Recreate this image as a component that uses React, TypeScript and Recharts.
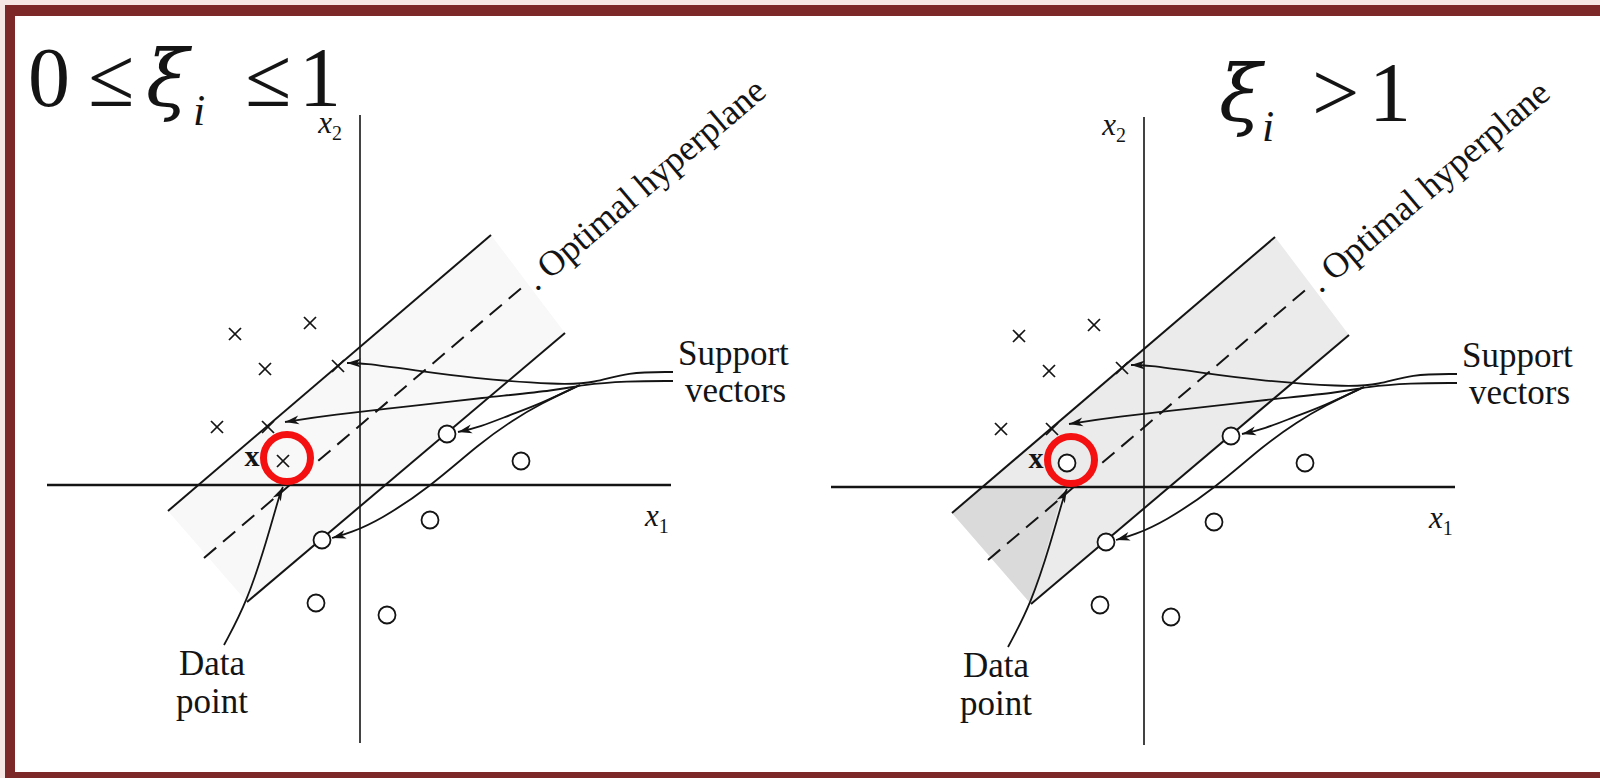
import React from 'react';
import { ComposedChart, XAxis, YAxis, Line, Area, Scatter, ReferenceLine } from 'recharts';

// plane coordinates: origin where x1 and x2 cross, 1 unit = 10px, x2 upward
const crossPoints = [
  { x: -12.5, y: 15.1 },
  { x: -5.0, y: 16.2 },
  { x: -9.5, y: 11.6 },
  { x: -2.2, y: 11.9 },
  { x: -14.3, y: 5.8 },
  { x: -9.2, y: 5.8 },
];

const circlePoints = [
  { x: 8.7, y: 5.1 },
  { x: 16.1, y: 2.4 },
  { x: 7.0, y: -3.5 },
  { x: -3.8, y: -5.5 },
  { x: -4.4, y: -11.8 },
  { x: 2.7, y: -13.0 },
];

const flaggedPoint = [{ x: -7.7, y: 2.4 }];
const flagRing = [{ x: -7.3, y: 2.7 }];
const boldX = [{ x: -10.8, y: 2.7, text: 'x' }];

const upperMargin = [{ x: -19.2, y: -2.6 }, { x: 13.1, y: 25.0 }];
const hyperplane = [{ x: -15.6, y: -7.3 }, { x: 16.5, y: 20.0 }];
const lowerMargin = [{ x: -11.3, y: -11.7 }, { x: 20.5, y: 15.2 }];

const x1Span = [-31.3, 31.1];
const x2Span = [-25.8, 37.0];

// pointer curves, label end first, arrow tip last
const toTopCross = [
  { x: 31.3, y: 11.3 }, { x: 26.7, y: 11.3 }, { x: 23.5, y: 10.2 }, { x: 20.0, y: 10.0 },
  { x: 11.0, y: 10.7 }, { x: 5.3, y: 11.5 }, { x: 0.2, y: 12.2 }, { x: -1.3, y: 12.2 },
];
const toLowCross = [
  { x: 31.3, y: 10.4 }, { x: 26.7, y: 10.4 }, { x: 22.0, y: 10.0 }, { x: 20.0, y: 9.5 },
  { x: 12.0, y: 8.7 }, { x: 5.3, y: 7.9 }, { x: -3.0, y: 7.0 }, { x: -7.5, y: 6.3 },
];
const toHighCircle = [
  { x: 22.0, y: 10.0 }, { x: 18.0, y: 8.1 }, { x: 15.0, y: 7.0 }, { x: 12.0, y: 5.8 }, { x: 9.8, y: 5.3 },
];
const toLowCircle = [
  { x: 22.0, y: 10.0 }, { x: 18.0, y: 8.1 }, { x: 15.3, y: 6.5 }, { x: 12.0, y: 4.2 },
  { x: 7.0, y: -0.2 }, { x: 2.0, y: -3.5 }, { x: -1.0, y: -4.8 }, { x: -2.8, y: -5.3 },
];
const toDataPoint = [
  { x: -13.6, y: -16.0 }, { x: -11.3, y: -11.7 }, { x: -9.3, y: -5.5 }, { x: -8.0, y: -0.8 }, { x: -7.7, y: -0.2 },
];
const pointers = [toTopCross, toLowCross, toHighCircle, toLowCircle, toDataPoint];

const textNotes = [
  { x: 17.6, y: 19.3, text: '. Optimal hyperplane', kind: 'slant' },
  { x: 31.8, y: 12.0, text: 'Support', kind: 'plain' },
  { x: 32.5, y: 8.3, text: 'vectors', kind: 'plain' },
  { x: -14.8, y: -19.0, text: 'Data', kind: 'center' },
  { x: -14.8, y: -22.8, text: 'point', kind: 'center' },
];
const axisNames = [
  { x: -1.8, y: 35.2, text: 'x', sub: '2', kind: 'end' },
  { x: 28.5, y: -4.1, text: 'x', sub: '1', kind: 'start' },
];

// wrong-side region in the right panel (denser stipple)
const wrongSide = [
  { x: -19.2, y: -2.6 }, { x: -16.2, y: 0 }, { x: -8.0, y: 0 }, { x: -11.3, y: -11.7 },
];

function bandRows(poly: { x: number; y: number }[]) {
  const xs = Array.from(new Set(poly.map((p) => p.x))).sort((a, b) => a - b);
  return xs.map((x) => {
    const ys: number[] = [];
    poly.forEach((p, i) => {
      const q = poly[(i + 1) % poly.length];
      if (x < Math.min(p.x, q.x) - 1e-9 || x > Math.max(p.x, q.x) + 1e-9) return;
      if (p.x === q.x) {
        ys.push(p.y, q.y);
        return;
      }
      ys.push(p.y + ((q.y - p.y) * (x - p.x)) / (q.x - p.x));
    });
    return { x, band: [Math.min(...ys), Math.max(...ys)] };
  });
}

function headOf(path: { x: number; y: number }[]) {
  const a = path[path.length - 2];
  const b = path[path.length - 1];
  return { x: b.x, y: b.y, angle: (Math.atan2(-(b.y - a.y), b.x - a.x) * 180) / Math.PI };
}

const INK = '#141414';
const SERIF = '"Liberation Serif", "DejaVu Serif", serif';

const CrossShape = (p: any) => (
  <g stroke={INK} strokeWidth={1.7}>
    <line x1={p.cx - 6} y1={p.cy - 6} x2={p.cx + 6} y2={p.cy + 6} />
    <line x1={p.cx - 6} y1={p.cy + 6} x2={p.cx + 6} y2={p.cy - 6} />
  </g>
);

const CircleShape = (p: any) => (
  <circle cx={p.cx} cy={p.cy} r={8.5} fill="#fff" stroke={INK} strokeWidth={1.8} />
);

const RingShape = (p: any) => (
  <circle cx={p.cx} cy={p.cy} r={23.5} fill="none" stroke="#f41010" strokeWidth={7} />
);

const HeadShape = (p: any) => (
  <polygon
    points="0,0 -14,-4.5 -10,0 -14,4.5"
    fill={INK}
    transform={`translate(${p.cx},${p.cy}) rotate(${p.payload.angle})`}
  />
);

const BoldShape = (p: any) => (
  <text x={p.cx} y={p.cy + 8} textAnchor="middle" fontFamily={SERIF} fontWeight="bold" fontSize={30} fill={INK}>
    {p.payload.text}
  </text>
);

const NoteShape = (p: any) => {
  const d = p.payload;
  if (d.kind === 'slant') {
    return (
      <text
        x={p.cx}
        y={p.cy}
        fontFamily={SERIF}
        fontSize={36}
        fill={INK}
        transform={`rotate(-40.4 ${p.cx} ${p.cy})`}
      >
        {d.text}
      </text>
    );
  }
  return (
    <text
      x={p.cx}
      y={p.cy}
      textAnchor={d.kind === 'center' ? 'middle' : 'start'}
      fontFamily={SERIF}
      fontSize={35}
      fill={INK}
    >
      {d.text}
    </text>
  );
};

const AxisNameShape = (p: any) => {
  const d = p.payload;
  return (
    <text x={p.cx} y={p.cy} textAnchor={d.kind} fontFamily={SERIF} fontSize={31} fill={INK}>
      <tspan fontStyle="italic">{d.text}</tspan>
      <tspan fontSize={20} dy={7}>
        {d.sub}
      </tspan>
    </text>
  );
};

function Panel({ beyond }: { beyond: boolean }) {
  const marginBand = bandRows([upperMargin[0], upperMargin[1], lowerMargin[1], lowerMargin[0]]);
  const heads = pointers.map(headOf);
  return (
    <ComposedChart width={800} height={778} margin={{ top: 0, right: 0, bottom: 0, left: 0 }}>
      <XAxis type="number" dataKey="x" domain={[-36, 44]} hide allowDataOverflow />
      <YAxis type="number" dataKey="y" domain={[-29.3, 48.5]} hide allowDataOverflow />
      <Area
        data={marginBand}
        dataKey="band"
        type="linear"
        stroke="none"
        fill={beyond ? '#ebebeb' : '#f8f8f8'}
        fillOpacity={1}
        isAnimationActive={false}
      />
      {beyond && (
        <Area
          data={bandRows(wrongSide)}
          dataKey="band"
          type="linear"
          stroke="none"
          fill="#dadada"
          fillOpacity={1}
          isAnimationActive={false}
        />
      )}
      <ReferenceLine segment={[{ x: x1Span[0], y: 0 }, { x: x1Span[1], y: 0 }]} stroke={INK} strokeWidth={2.6} />
      <ReferenceLine segment={[{ x: 0, y: x2Span[0] }, { x: 0, y: x2Span[1] }]} stroke={INK} strokeWidth={1.6} />
      <Line data={upperMargin} dataKey="y" type="linear" stroke={INK} strokeWidth={2} dot={false} isAnimationActive={false} />
      <Line data={lowerMargin} dataKey="y" type="linear" stroke={INK} strokeWidth={2} dot={false} isAnimationActive={false} />
      <Line
        data={hyperplane}
        dataKey="y"
        type="linear"
        stroke={INK}
        strokeWidth={2}
        strokeDasharray="16 9"
        dot={false}
        isAnimationActive={false}
      />
      {pointers.map((path, i) => (
        <Line
          key={`ptr-${i}`}
          data={path}
          dataKey="y"
          type="basis"
          stroke={INK}
          strokeWidth={1.8}
          dot={false}
          isAnimationActive={false}
        />
      ))}
      <Scatter data={heads} shape={HeadShape} isAnimationActive={false} />
      <Scatter data={crossPoints} shape={CrossShape} isAnimationActive={false} />
      <Scatter data={circlePoints} shape={CircleShape} isAnimationActive={false} />
      <Scatter data={flaggedPoint} shape={beyond ? CircleShape : CrossShape} isAnimationActive={false} />
      <Scatter data={boldX} shape={BoldShape} isAnimationActive={false} />
      <Scatter data={textNotes} shape={NoteShape} isAnimationActive={false} />
      <Scatter data={axisNames} shape={AxisNameShape} isAnimationActive={false} />
      <Scatter data={flagRing} shape={RingShape} isAnimationActive={false} />
    </ComposedChart>
  );
}

const XI_FONT = '"DejaVu Serif", "Liberation Serif", serif';

function Titles() {
  return (
    <svg width={1600} height={778} style={{ position: 'absolute', left: 0, top: 0, pointerEvents: 'none' }}>
      <g fontFamily={SERIF} fill={INK}>
        <text x={28} y={106} fontSize={84}>0</text>
        <text x={88} y={106} fontSize={84}>≤</text>
        <text x={146} y={106} fontSize={78} fontFamily={XI_FONT} fontStyle="italic">ξ</text>
        <text x={193} y={125} fontSize={44} fontStyle="italic">i</text>
        <text x={245} y={106} fontSize={84}>≤</text>
        <text x={299} y={106} fontSize={84}>1</text>

        <text x={1219} y={121} fontSize={78} fontFamily={XI_FONT} fontStyle="italic">ξ</text>
        <text x={1262} y={141} fontSize={44} fontStyle="italic">i</text>
        <text x={1312} y={121} fontSize={84}>&gt;</text>
        <text x={1369} y={121} fontSize={84}>1</text>
      </g>
    </svg>
  );
}

export default function App() {
  return (
    <div style={{ position: 'absolute', left: 0, top: 0, width: 1600, height: 778, background: '#fff', overflow: 'hidden' }}>
      <div style={{ position: 'absolute', left: 0, top: 0, width: 800, height: 778 }}>
        <Panel beyond={false} />
      </div>
      <div style={{ position: 'absolute', left: 784, top: 2, width: 800, height: 778 }}>
        <Panel beyond />
      </div>
      <Titles />
      <div style={{ position: 'absolute', left: 0, top: 0, width: 1600, height: 5, background: '#f6e7e5' }} />
      <div style={{ position: 'absolute', left: 0, top: 0, width: 5, height: 778, background: '#f6e7e5' }} />
      <div style={{ position: 'absolute', left: 5, top: 5, width: 1595, height: 11, background: '#7d2828' }} />
      <div style={{ position: 'absolute', left: 5, top: 5, width: 10, height: 773, background: '#7d2828' }} />
      <div style={{ position: 'absolute', left: 5, top: 772, width: 1595, height: 6, background: '#7d2828' }} />
    </div>
  );
}
